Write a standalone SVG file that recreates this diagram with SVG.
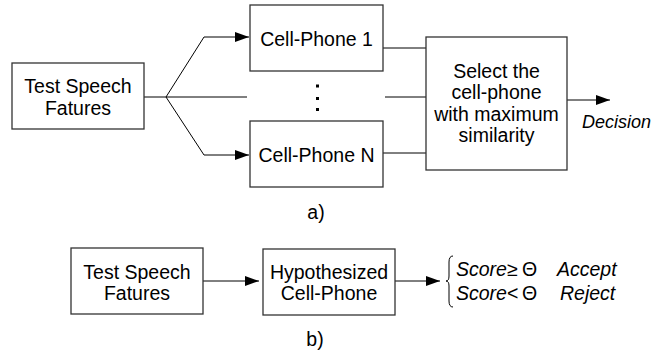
<svg xmlns="http://www.w3.org/2000/svg" width="655" height="352" viewBox="0 0 655 352">
<defs>
<style>
.box{fill:#fff;stroke:#333;stroke-width:1.3}
.ln{fill:none;stroke:#000;stroke-width:1}
.t{font-family:"Liberation Sans",Arial,sans-serif;font-size:19.5px;fill:#000;text-anchor:middle}
.i{font-family:"Liberation Sans",Arial,sans-serif;font-size:19.5px;font-style:italic;fill:#000}
.m{font-family:"Liberation Sans",Arial,sans-serif;font-size:19.5px;fill:#000}
</style>
<marker id="ah" viewBox="0 0 14 10" refX="14" refY="5" markerWidth="14" markerHeight="10" markerUnits="userSpaceOnUse" orient="auto">
<path d="M0,0 L14,5 L0,10 Z" fill="#000"/>
</marker>
</defs>
<rect width="655" height="352" fill="#fff"/>
<g id="connectors">
<polyline class="ln" points="144,97 166,97 204,37 249,37" marker-end="url(#ah)"/>
<polyline class="ln" points="166,97 204,155 249,155" marker-end="url(#ah)"/>
<line class="ln" x1="166" y1="97" x2="247" y2="97"/>
<line class="ln" x1="383" y1="48" x2="426" y2="48"/>
<line class="ln" x1="385" y1="97" x2="426" y2="97"/>
<line class="ln" x1="383" y1="153" x2="426" y2="153"/>
<line class="ln" x1="567" y1="100" x2="610" y2="100" marker-end="url(#ah)"/>
<line class="ln" x1="203" y1="281" x2="259" y2="281" marker-end="url(#ah)"/>
<line class="ln" x1="395" y1="281" x2="440" y2="281" marker-end="url(#ah)"/>
</g>
<g id="test-a">
<rect class="box" x="12" y="63" width="132" height="66"/>
<text class="t" x="78" y="92.5">Test Speech</text>
<text class="t" x="78" y="114.5">Fatures</text>
</g>
<g id="phone1">
<rect class="box" x="250" y="5" width="133" height="66"/>
<text class="t" x="316.5" y="45.5">Cell-Phone 1</text>
</g>
<g id="dots">
<rect x="316" y="84.5" width="3" height="3" fill="#000"/>
<rect x="316" y="97" width="3" height="3" fill="#000"/>
<rect x="316" y="108" width="3" height="3" fill="#000"/>
</g>
<g id="phoneN">
<rect class="box" x="250" y="121" width="133" height="66"/>
<text class="t" x="316.5" y="161.5">Cell-Phone N</text>
</g>
<g id="select">
<rect class="box" x="426" y="37" width="141" height="133"/>
<text class="t" x="496.5" y="77.5">Select the</text>
<text class="t" x="496.5" y="99">cell-phone</text>
<text class="t" x="496.5" y="120.5">with maximum</text>
<text class="t" x="496.5" y="142">similarity</text>
</g>
<text class="i" x="582" y="127.5" style="font-size:18px">Decision</text>
<text class="t" x="316" y="218.5">a)</text>
<g id="test-b">
<rect class="box" x="71" y="248" width="132" height="66"/>
<text class="t" x="137" y="278.5">Test Speech</text>
<text class="t" x="137" y="299.5">Fatures</text>
</g>
<g id="hyp">
<rect class="box" x="263" y="249" width="132" height="66"/>
<text class="t" x="329" y="278.5">Hypothesized</text>
<text class="t" x="329" y="299.5">Cell-Phone</text>
</g>
<g id="rule">
<path class="ln" d="M453,256 Q449,256 449,262 L449,276 Q449,281 446,281 Q449,281 449,286 L449,301 Q449,307 453,307" stroke="#444"/>
<text class="i" x="456" y="276">Score</text>
<text class="m" x="507" y="276">≥</text>
<text class="m" x="522" y="276">Θ</text>
<text class="i" x="557" y="276">Accept</text>
<text class="i" x="456" y="299.5">Score</text>
<text class="m" x="507" y="299.5">&lt;</text>
<text class="m" x="522" y="299.5">Θ</text>
<text class="i" x="560" y="299.5">Reject</text>
</g>
<text class="t" x="315" y="345.5">b)</text>
</svg>
